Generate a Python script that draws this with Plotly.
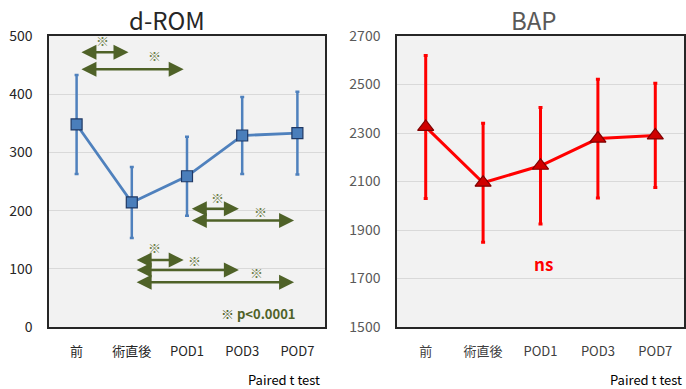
import plotly.graph_objects as go

categories = ["前", "術直後", "POD1", "POD3", "POD7"]

drom_mean = [348, 214, 259, 329, 333]
drom_sd = [85, 61, 68, 66, 71]

bap_mean = [2325, 2095, 2165, 2277, 2290]
bap_sd = [295, 245, 240, 245, 215]

# significant comparisons for d-ROM: (from index, to index, arrow level, mark x, mark level)
drom_pairs_from = [0, 0, 2, 2, 1, 1, 1]
drom_pairs_to = [1, 2, 3, 4, 2, 3, 4]
drom_pairs_level = [472, 443, 203, 183, 115, 98, 77]
drom_mark_x = [0.47, 1.42, 2.55, 3.33, 1.42, 2.13, 3.25]
drom_mark_level = [492, 466, 223, 199, 137, 114, 94]

y1_ticks = [0, 100, 200, 300, 400, 500]
y2_ticks = [1500, 1700, 1900, 2100, 2300, 2500, 2700]

FONT = "Noto Sans CJK JP, Noto Sans, sans-serif"
GREEN = "#4F6228"
BLUE = "#4F81BD"
RED = "#FF0000"

W, H = 686, 389
TOP, BOT = 36, 327


def py(px):
    # pixel row -> paper y (paper spans the plot area inside margins)
    return (BOT - px) / (BOT - TOP)


fig = go.Figure()

fig.add_trace(go.Scatter(
    x=list(range(len(categories))), y=drom_mean, xaxis="x", yaxis="y",
    mode="lines+markers",
    line=dict(color=BLUE, width=2.8),
    marker=dict(symbol="square", size=11, color="#4A7EBB", line=dict(color="#1F3864", width=1.2)),
    error_y=dict(type="data", array=drom_sd, visible=True, color=BLUE, thickness=2.5, width=2),
    showlegend=False,
))

fig.add_trace(go.Scatter(
    x=list(range(len(categories))), y=bap_mean, xaxis="x2", yaxis="y2",
    mode="lines+markers",
    line=dict(color=RED, width=3),
    marker=dict(symbol="triangle-up", size=14, color="#D00000", line=dict(color="#7F0000", width=1.2)),
    error_y=dict(type="data", array=bap_sd, visible=True, color=RED, thickness=3, width=2),
    showlegend=False,
))

annotations = []
for a, b, lv, mx, ml in zip(drom_pairs_from, drom_pairs_to, drom_pairs_level, drom_mark_x, drom_mark_level):
    annotations.append(dict(
        x=b - 0.06, y=lv, ax=a + 0.06, ay=lv, xref="x", yref="y", axref="x", ayref="y",
        text="", showarrow=True, arrowhead=2, arrowside="end+start", arrowsize=1.2,
        arrowwidth=2.5, arrowcolor=GREEN,
    ))
    annotations.append(dict(
        x=mx, y=ml, xref="x", yref="y", text="※", showarrow=False,
        font=dict(family=FONT, size=13, color="#6b7d45"),
    ))

annotations += [
    dict(x=3.3, y=24, xref="x", yref="y", text="※ <b>p<0.0001</b>", showarrow=False,
         font=dict(family=FONT, size=13, color=GREEN)),
    dict(x=2.05, y=1760, xref="x2", yref="y2", text="<b>ns</b>", showarrow=False,
         font=dict(family=FONT, size=17, color=RED)),
    dict(x=167 / W, y=py(20), xref="paper", yref="paper", text="d-ROM", showarrow=False,
         font=dict(family=FONT, size=24, color="#262626"), xanchor="center", yanchor="middle"),
    dict(x=534 / W, y=py(20), xref="paper", yref="paper", text="BAP", showarrow=False,
         font=dict(family=FONT, size=24, color="#595959"), xanchor="center", yanchor="middle"),
    dict(x=322 / W, y=py(379), xref="paper", yref="paper", text="Paired t test", showarrow=False,
         font=dict(family=FONT, size=13, color="#000000"), xanchor="right", yanchor="middle"),
    dict(x=684 / W, y=py(379), xref="paper", yref="paper", text="Paired t test", showarrow=False,
         font=dict(family=FONT, size=13, color="#000000"), xanchor="right", yanchor="middle"),
]

xcommon = dict(
    tickmode="array", tickvals=list(range(len(categories))), ticktext=categories,
    range=[-0.5, 4.5], showgrid=False, zeroline=False,
    showline=True, mirror=True, linecolor="#262626", linewidth=1.5,
    ticks="", ticklabelstandoff=12, automargin=False,
)
ycommon = dict(
    showgrid=True, gridcolor="#d9d9d9", gridwidth=1, zeroline=False,
    showline=True, mirror=True, linecolor="#262626", linewidth=1.5,
    ticks="", ticklabelstandoff=12, automargin=False,
)

fig.update_layout(
    width=W, height=H,
    margin=dict(l=0, r=0, t=TOP, b=H - BOT, pad=0),
    paper_bgcolor="white", plot_bgcolor="#f2f2f2",
    font=dict(family=FONT),
    xaxis=dict(domain=[49 / W, 325 / W], anchor="y",
               tickfont=dict(size=13, color="#262626"), **xcommon),
    yaxis=dict(domain=[0, 1], anchor="x", range=[0, 500],
               tickvals=y1_ticks, tickfont=dict(size=14, color="#262626"), **ycommon),
    xaxis2=dict(domain=[397 / W, 684 / W], anchor="y2",
                tickfont=dict(size=13, color="#404040"), **xcommon),
    yaxis2=dict(domain=[0, 1], anchor="x2", range=[1500, 2700],
                tickvals=y2_ticks, tickfont=dict(size=14, color="#595959"), **ycommon),
    annotations=annotations,
)

fig.write_html(
    "out.html",
    config={"displayModeBar": False},
    post_script="document.body.style.margin='0px';document.body.style.overflow='hidden';",
)
